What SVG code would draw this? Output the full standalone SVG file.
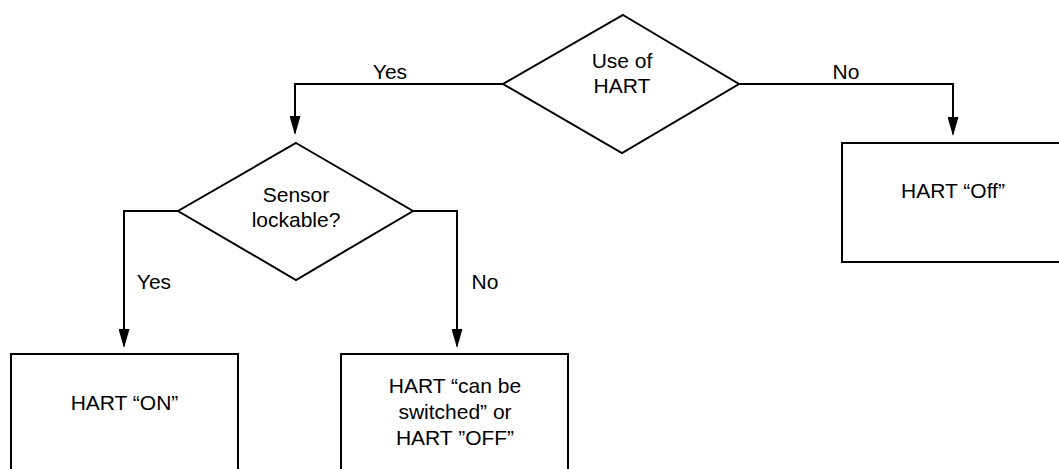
<svg xmlns="http://www.w3.org/2000/svg" width="1059" height="469" viewBox="0 0 1059 469">
<style>
.shape{fill:#fff;stroke:#000;stroke-width:2}
.conn{fill:none;stroke:#000;stroke-width:2;marker-end:url(#arr)}
text{font-family:"Liberation Sans",Arial,sans-serif;font-size:21px;fill:#000}
.c{text-anchor:middle}
</style>
<defs>
<marker id="arr" markerUnits="userSpaceOnUse" markerWidth="19" markerHeight="11" refX="17" refY="5.5" orient="auto" viewBox="0 0 19 11">
<path d="M0,0 L19,5.5 L0,11 Z" fill="#000"/>
</marker>
</defs>
<rect width="1059" height="469" fill="#fff"/>
<g id="connectors">
<polyline class="conn" points="503,84 295,84 295,133"/>
<polyline class="conn" points="739,84 953,84 953,134"/>
<polyline class="conn" points="178,211 124,211 124,346"/>
<polyline class="conn" points="413,211 457,211 457,346"/>
<text x="390" y="79" class="c">Yes</text>
<text x="846" y="79" class="c">No</text>
<text x="154" y="289" class="c">Yes</text>
<text x="485" y="289" class="c">No</text>
</g>
<g id="n-use-hart">
<polygon class="shape" points="623,15 739,84 622,153 503,84"/>
<text x="622" y="68" class="c">Use of</text>
<text x="622" y="93" class="c">HART</text>
</g>
<g id="n-sensor">
<polygon class="shape" points="296,143 413,211 296,280 178,211"/>
<text x="296" y="202" class="c">Sensor</text>
<text x="296" y="227" class="c">lockable?</text>
</g>
<g id="n-off">
<rect class="shape" x="842" y="143" width="230" height="119"/>
<text x="953" y="198" class="c">HART “Off”</text>
</g>
<g id="n-on">
<rect class="shape" x="11" y="354" width="227" height="130"/>
<text x="124.5" y="410" class="c">HART “ON”</text>
</g>
<g id="n-switch">
<rect class="shape" x="341" y="354" width="227" height="130"/>
<text x="455" y="393" class="c">HART “can be</text>
<text x="455" y="419" class="c">switched” or</text>
<text x="455" y="445" class="c">HART ”OFF”</text>
</g>
</svg>
